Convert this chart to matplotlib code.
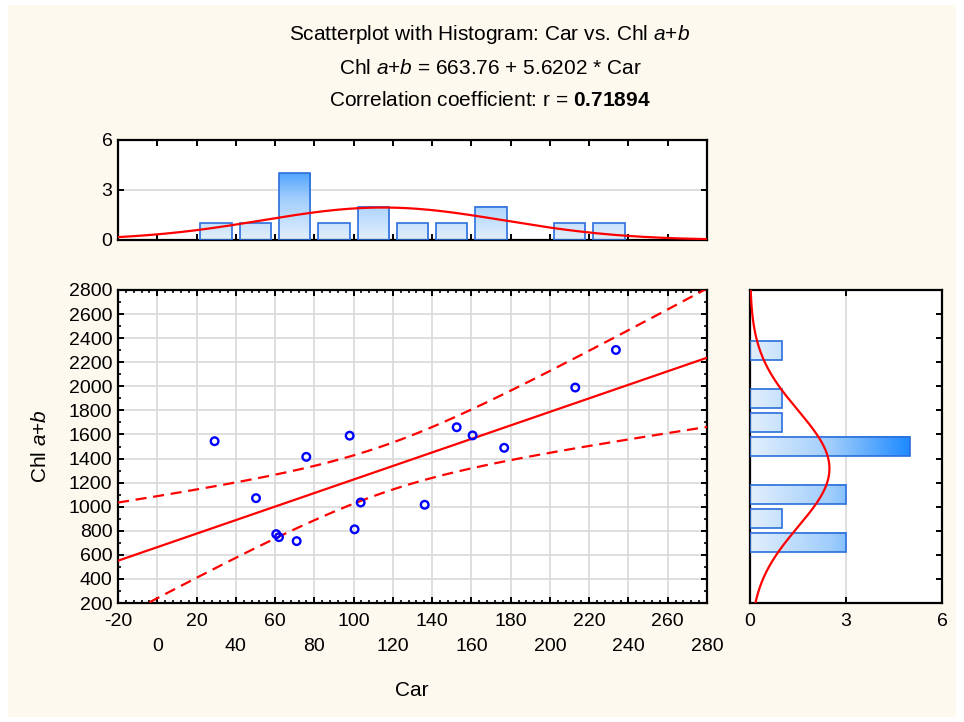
import numpy as np
import matplotlib
matplotlib.use("Agg")
import matplotlib.pyplot as plt
from matplotlib.colors import LinearSegmentedColormap, Normalize
from matplotlib.patches import Rectangle
from matplotlib.ticker import MultipleLocator

plt.rcParams['font.family'] = ['Liberation Sans', 'DejaVu Sans']
plt.rcParams['mathtext.fontset'] = 'custom'
plt.rcParams['mathtext.rm'] = 'Liberation Sans'
plt.rcParams['mathtext.it'] = 'Liberation Sans:italic'
plt.rcParams['mathtext.bf'] = 'Liberation Sans:bold'

car = [29.2, 50.3, 60.6, 62.0, 71.0, 75.9, 98.0, 100.5, 103.6,
       136.2, 152.5, 160.6, 176.7, 212.9, 233.6]
chl = [1544, 1071, 772, 747, 714, 1414, 1590, 812, 1035,
       1016, 1660, 1592, 1489, 1990, 2302]

# fit as printed in the title
intercept = 663.76
slope = 5.6202
r_value = 0.71894
t_crit = 2.1604  # t(0.975, df=13)

car_bins = np.arange(-20, 300, 20)
chl_bins = np.arange(200, 2900, 200)

W, H = 964, 722
RED = '#ff0000'
EDGE = '#2b6fdc'
GRID = '#d9d9d9'
TICK_FS = 14
TEXT_FS = 15
grad_cmap = LinearSegmentedColormap.from_list('grad', ['#e2effd', '#9fcdfc', '#1a88ff'])
grad_norm = Normalize(0, 5.1)


def box(l, t, r, b):
    return [l / W, 1 - b / H, (r - l) / W, (b - t) / H]


def style_spines(ax):
    for s in ax.spines.values():
        s.set_linewidth(1.6)
        s.set_color('black')


fig = plt.figure(figsize=(9.64, 7.22), dpi=100, facecolor='white')
fig.patches.append(Rectangle((8 / W, 5 / H), 1 - 16 / W, 1 - 10 / H,
                             transform=fig.transFigure, facecolor='#fef9ee',
                             edgecolor='none', zorder=-10))

ax = fig.add_axes(box(118, 290, 707, 603))
ax_top = fig.add_axes(box(118, 140, 707, 240))
ax_right = fig.add_axes(box(750, 290, 942, 603))

car_a = np.array(car)
chl_a = np.array(chl)
n = len(car_a)

# ---- main scatter ----
xs = np.linspace(-20, 280, 300)
fit = intercept + slope * xs
resid = chl_a - (intercept + slope * car_a)
s = np.sqrt(np.sum(resid ** 2) / (n - 2))
sxx = np.sum((car_a - car_a.mean()) ** 2)
half = t_crit * s * np.sqrt(1 / n + (xs - car_a.mean()) ** 2 / sxx)

ax.plot(xs, fit, color=RED, lw=1.6, zorder=3)
ax.plot(xs, fit + half, color=RED, lw=1.6, ls=(0, (5, 3)), zorder=3)
ax.plot(xs, fit - half, color=RED, lw=1.6, ls=(0, (5, 3)), zorder=3)
ax.scatter(car_a, chl_a, s=30, facecolors='none', edgecolors='#0000ff',
           linewidths=1.7, zorder=4)

ax.set_xlim(-20, 280)
ax.set_ylim(200, 2800)
xt = np.arange(-20, 281, 20)
ax.set_xticks(xt)
ax.set_xticklabels([str(v) if i % 2 == 0 else "\n" + str(v) for i, v in enumerate(xt)])
for lbl in ax.get_xticklabels():
    lbl.set_linespacing(1.6)
ax.set_yticks(np.arange(200, 2801, 200))
ax.xaxis.set_minor_locator(MultipleLocator(4))
ax.yaxis.set_minor_locator(MultipleLocator(100))
ax.tick_params(which='both', direction='in', top=True, right=True, labelsize=TICK_FS)
ax.tick_params(which='major', length=4, width=1.4)
ax.tick_params(which='minor', length=2.5, width=1.2)
ax.tick_params(axis='x', pad=7)
ax.tick_params(axis='y', pad=4)
ax.grid(True, which='major', color=GRID, lw=1.2)
ax.set_axisbelow(True)
style_spines(ax)


# ---- gradient bars ----
def grad_bar_v(a, x0, w, h):
    img = np.linspace(0, h, 64).reshape(-1, 1)
    a.imshow(img, cmap=grad_cmap, norm=grad_norm, origin='lower', aspect='auto',
             extent=(x0, x0 + w, 0, h), zorder=2, interpolation='bilinear')
    a.add_patch(Rectangle((x0, 0), w, h, fill=False, edgecolor=EDGE, lw=1.2, zorder=3))


def grad_bar_h(a, y0, hgt, w):
    img = np.linspace(0, w, 64).reshape(1, -1)
    a.imshow(img, cmap=grad_cmap, norm=grad_norm, origin='lower', aspect='auto',
             extent=(0, w, y0, y0 + hgt), zorder=2, interpolation='bilinear')
    a.add_patch(Rectangle((0, y0), w, hgt, fill=False, edgecolor=EDGE, lw=1.2, zorder=3))


# ---- top histogram (Car) ----
cnt_x, _ = np.histogram(car_a, bins=car_bins)
bw = car_bins[1] - car_bins[0]
for left, c in zip(car_bins[:-1], cnt_x):
    if c > 0:
        grad_bar_v(ax_top, left + 2, bw - 4, c)
mx, sx = car_a.mean(), car_a.std(ddof=1)
pdf_x = n * bw * np.exp(-0.5 * ((xs - mx) / sx) ** 2) / (sx * np.sqrt(2 * np.pi))
ax_top.plot(xs, pdf_x, color=RED, lw=1.6, zorder=4)
ax_top.set_xlim(-20, 280)
ax_top.set_ylim(0, 6)
ax_top.set_xticks(xt)
ax_top.set_xticklabels([])
ax_top.set_yticks([0, 3, 6])
ax_top.tick_params(direction='in', top=True, right=True, labelsize=TICK_FS,
                   length=4, width=1.4, pad=4)
ax_top.grid(True, axis='y', color=GRID, lw=1.2)
ax_top.set_axisbelow(True)
style_spines(ax_top)

# ---- right histogram (Chl a+b) ----
cnt_y, _ = np.histogram(chl_a, bins=chl_bins)
bh = chl_bins[1] - chl_bins[0]
for low, c in zip(chl_bins[:-1], cnt_y):
    if c > 0:
        grad_bar_h(ax_right, low + 20, bh - 40, c)
ys = np.linspace(200, 2800, 300)
my, sy = chl_a.mean(), chl_a.std(ddof=1)
pdf_y = n * bh * np.exp(-0.5 * ((ys - my) / sy) ** 2) / (sy * np.sqrt(2 * np.pi))
ax_right.plot(pdf_y, ys, color=RED, lw=1.6, zorder=4)
ax_right.set_xlim(0, 6)
ax_right.set_ylim(200, 2800)
ax_right.set_xticks([0, 3, 6])
ax_right.set_yticks(np.arange(200, 2801, 200))
ax_right.set_yticklabels([])
ax_right.tick_params(direction='in', top=True, right=True, left=False,
                     labelsize=TICK_FS, length=4, width=1.4)
ax_right.tick_params(axis='x', pad=7)
ax_right.grid(True, axis='x', color=GRID, lw=1.2)
ax_right.set_axisbelow(True)
style_spines(ax_right)

# ---- texts ----
cx = 490 / W
fig.text(cx, 1 - 35 / H, r"Scatterplot with Histogram: Car vs. Chl $\mathit{a}$+$\mathit{b}$",
         ha='center', va='center', fontsize=TEXT_FS)
fig.text(cx, 1 - 68 / H, r"Chl $\mathit{a}$+$\mathit{b}$ = %.2f + %.4f * Car" % (intercept, slope),
         ha='center', va='center', fontsize=TEXT_FS)
fig.text(cx, 1 - 101 / H, r"Correlation coefficient: r = $\mathbf{%.5f}$" % r_value,
         ha='center', va='center', fontsize=TEXT_FS)
fig.text(412 / W, 1 - 690 / H, "Car", ha='center', va='center', fontsize=TEXT_FS)
fig.text(40 / W, 1 - 446 / H, r"Chl $\mathit{a}$+$\mathit{b}$", rotation=90,
         ha='center', va='center', fontsize=TEXT_FS)

fig.savefig("out.png", dpi=100, facecolor=fig.get_facecolor())
